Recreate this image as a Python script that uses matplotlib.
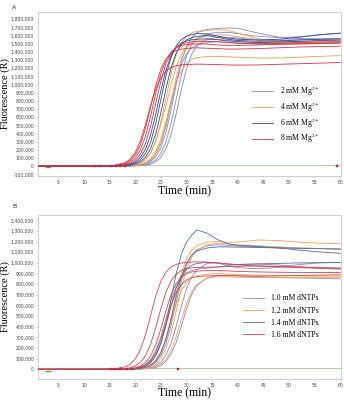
import numpy as np
import matplotlib
matplotlib.use("Agg")
import matplotlib.pyplot as plt
from matplotlib.ticker import FuncFormatter

plt.rcParams['mathtext.fontset'] = 'stix'

# time grid (min) shared by all curves
t = [1, 10, 16, 18, 19, 20, 21, 22, 23, 24, 25, 26, 27, 28, 29, 30, 31, 32,
     34, 36, 38, 40, 44, 48, 52, 56, 60]

# ---- panel A: Mg2+ (fluorescence in thousands) ----
mg2_curves = [
    [0, 0, 0, 1, 3, 7, 15, 27, 56, 115, 225, 414, 688, 1002, 1276, 1465, 1575, 1634, 1675, 1688, 1692, 1690, 1630, 1580, 1565, 1560, 1560],
    [0, 0, 0, 1, 2, 4, 8, 18, 38, 77, 156, 295, 525, 820, 1115, 1345, 1484, 1563, 1620, 1640, 1640, 1625, 1590, 1575, 1585, 1610, 1630],
    [0, 0, 0, 0, 1, 3, 6, 13, 25, 52, 107, 210, 387, 643, 937, 1193, 1370, 1473, 1555, 1578, 1580, 1570, 1550, 1545, 1550, 1555, 1560],
    [0, 0, 0, 2, 4, 8, 17, 35, 71, 144, 274, 486, 760, 1034, 1246, 1376, 1449, 1485, 1515, 1525, 1520, 1510, 1495, 1490, 1495, 1500, 1505],
]
mg4_curves = [
    [0, 0, 1, 3, 8, 18, 38, 78, 159, 301, 534, 835, 1136, 1369, 1511, 1592, 1632, 1652, 1665, 1672, 1665, 1630, 1560, 1530, 1525, 1530, 1535],
    [0, 0, 0, 2, 5, 8, 22, 45, 92, 180, 331, 549, 801, 1019, 1170, 1258, 1305, 1328, 1345, 1345, 1340, 1335, 1325, 1325, 1335, 1345, 1355],
    [0, 0, 0, 2, 4, 8, 18, 37, 75, 152, 288, 512, 800, 1088, 1312, 1448, 1525, 1563, 1595, 1610, 1605, 1585, 1545, 1520, 1515, 1520, 1525],
    [0, 0, 1, 5, 10, 20, 40, 80, 160, 300, 520, 740, 1000, 1220, 1370, 1460, 1505, 1530, 1550, 1555, 1545, 1530, 1510, 1505, 1505, 1510, 1515],
]
mg6_curves = [
    [0, 0, 3, 10, 20, 37, 77, 155, 293, 522, 815, 1108, 1337, 1475, 1553, 1592, 1612, 1625, 1620, 1595, 1570, 1555, 1545, 1555, 1580, 1610, 1630],
    [0, 0, 2, 6, 11, 26, 53, 109, 213, 392, 651, 949, 1208, 1387, 1491, 1547, 1574, 1590, 1600, 1580, 1555, 1540, 1530, 1535, 1545, 1555, 1560],
    [0, 0, 3, 9, 25, 51, 106, 207, 382, 635, 925, 1178, 1353, 1454, 1509, 1535, 1548, 1555, 1560, 1550, 1535, 1525, 1515, 1520, 1530, 1540, 1545],
]
mg8_curves = [
    [0, 0, 8, 33, 68, 138, 261, 464, 725, 986, 1189, 1312, 1382, 1417, 1434, 1443, 1447, 1450, 1445, 1440, 1435, 1435, 1440, 1450, 1460, 1465, 1470],
    [0, 0, 8, 24, 50, 102, 200, 368, 611, 890, 1133, 1300, 1398, 1450, 1476, 1490, 1496, 1500, 1495, 1485, 1480, 1480, 1485, 1495, 1500, 1505, 1510],
    [0, 0, 10, 40, 85, 166, 306, 509, 741, 944, 1084, 1165, 1209, 1230, 1240, 1245, 1248, 1250, 1248, 1245, 1240, 1238, 1240, 1248, 1255, 1262, 1270],
    [0, 0, 4, 14, 35, 72, 145, 275, 490, 765, 1040, 1255, 1385, 1458, 1495, 1513, 1522, 1527, 1530, 1525, 1515, 1505, 1500, 1505, 1515, 1520, 1525],
]

# ---- panel B: dNTPs ----
d10_curves = [
    [0, 0, 0, 1, 2, 4, 7, 15, 31, 64, 128, 241, 414, 629, 830, 983, 1072, 1123, 1160, 1170, 1165, 1158, 1150, 1145, 1140, 1135, 1130],
    [0, 0, 0, 0, 1, 2, 4, 8, 16, 33, 68, 133, 245, 407, 593, 755, 867, 932, 995, 1000, 975, 955, 945, 960, 985, 1000, 1005],
    [0, 0, 0, 0, 0, 1, 2, 4, 8, 17, 37, 76, 144, 254, 405, 568, 699, 785, 860, 880, 885, 880, 870, 862, 858, 855, 850],
    [0, 0, 0, 2, 5, 10, 22, 45, 90, 171, 304, 475, 646, 779, 860, 905, 928, 940, 950, 960, 975, 985, 990, 980, 965, 950, 940],
]
d12_curves = [
    [0, 0, 0, 1, 3, 5, 10, 19, 40, 82, 160, 294, 488, 712, 906, 1040, 1118, 1160, 1195, 1200, 1195, 1195, 1215, 1210, 1195, 1185, 1180],
    [0, 0, 0, 0, 2, 5, 8, 11, 25, 48, 100, 192, 340, 550, 767, 937, 1051, 1115, 1170, 1185, 1180, 1170, 1160, 1150, 1140, 1135, 1130],
    [0, 0, 0, 0, 1, 2, 3, 5, 11, 23, 48, 95, 179, 308, 467, 617, 731, 797, 855, 870, 870, 865, 862, 862, 863, 865, 865],
    [0, 0, 0, 2, 4, 6, 10, 21, 42, 86, 162, 288, 450, 612, 738, 815, 858, 880, 895, 900, 895, 890, 885, 880, 878, 876, 875],
]
d14_curves = [
    [0, 0, 0, 2, 4, 8, 15, 30, 62, 125, 238, 422, 660, 898, 1082, 1195, 1258, 1310, 1280, 1220, 1180, 1165, 1155, 1140, 1120, 1103, 1090],
    [0, 0, 0, 1, 3, 7, 16, 33, 69, 134, 247, 411, 599, 763, 876, 941, 977, 994, 1005, 1000, 990, 985, 990, 995, 1000, 1002, 1003],
    [0, 0, 0, 0, 1, 3, 8, 18, 38, 78, 153, 282, 468, 682, 868, 997, 1072, 1112, 1140, 1150, 1150, 1148, 1145, 1140, 1137, 1133, 1130],
]
d16_curves = [
    [0, 0, 4, 23, 47, 96, 182, 323, 505, 687, 828, 914, 962, 986, 999, 1005, 1008, 1010, 1008, 1000, 990, 982, 970, 962, 955, 950, 948],
    [0, 0, 0, 2, 6, 15, 31, 63, 124, 228, 379, 551, 702, 806, 867, 899, 915, 922, 928, 928, 925, 920, 915, 912, 910, 910, 910],
    [0, 0, 0, 2, 4, 10, 20, 41, 84, 158, 282, 440, 598, 722, 796, 839, 860, 870, 878, 880, 880, 878, 876, 878, 882, 885, 888],
    [0, 0, 1, 6, 15, 32, 65, 128, 235, 391, 569, 725, 832, 895, 928, 945, 953, 957, 960, 962, 965, 968, 972, 968, 960, 955, 952],
]

labels_a = ['2 mM Mg$^{2+}$', '4 mM Mg$^{2+}$', '6 mM Mg$^{2+}$', '8 mM Mg$^{2+}$']
labels_b = ['1.0 mM dNTPs', '1.2 mM dNTPs', '1.4 mM dNTPs', '1.6 mM dNTPs']
colors_a = ['#8487cc', '#f39a48', '#2f4895', '#d8323f']
colors_b = ['#8a86c6', '#f3a04e', '#4d6c9c', '#d8404b']

# threshold-call markers on the baseline
marks_a = [12.2, 13.2, 15.2, 16.3, 17.1, 18.1, 59.4]
marks_b = [15.2, 16.1, 17.1, 18.3, 19.3, 28.4]


def fmt(v, p):
    return f'{v:,.0f}'


def panel(ax, groups, colors, labels, marks, ylim, ymin_tick, leg_anchor, lspace):
    ax.plot([1, 60], [8000, 8000], color='#9ccf8c', lw=0.6, zorder=1)
    ax.plot([2.6, 3.4], [-15000, -15000], color='#4aa04a', lw=1.0, zorder=2)
    handles = []
    for curves, c, lab in zip(groups, colors, labels):
        for i, vals in enumerate(curves):
            ln, = ax.plot(t, np.array(vals) * 1000, color=c, lw=0.6, zorder=3)
            if i == 0:
                handles.append(ln)
    ax.plot(marks, [0] * len(marks), 's', color='#d8323f', ms=1.6,
            mec='#a02030', mew=0.3, zorder=5)
    ax.set_xlim(1, 60.2)
    ax.set_ylim(*ylim)
    ax.set_xticks(range(5, 61, 5))
    ax.set_yticks(np.arange(ymin_tick, ylim[1], 100000))
    ax.yaxis.set_major_formatter(FuncFormatter(fmt))
    ax.tick_params(labelsize=3.3, labelcolor='#444444', color='#bbbbbb',
                   length=1.2, width=0.4, pad=1.5)
    for s in ax.spines.values():
        s.set_color('#c8c8c8')
        s.set_linewidth(0.6)
    ax.legend(handles, labels, loc='upper left', bbox_to_anchor=leg_anchor,
              frameon=False, prop={'family': 'Liberation Serif', 'size': 5.5},
              handlelength=2.8, handletextpad=0.9, labelspacing=lspace,
              borderaxespad=0)


fig = plt.figure(figsize=(3.44, 4.0), dpi=100)
ax_a = fig.add_axes([0.110, 0.56, 0.882, 0.41])
ax_b = fig.add_axes([0.110, 0.0525, 0.882, 0.41])

panel(ax_a, [mg2_curves, mg4_curves, mg6_curves, mg8_curves], colors_a, labels_a,
      marks_a, (-121000, 1889000), -100000, (0.695, 0.575), 0.3)
panel(ax_b, [d10_curves, d12_curves, d14_curves, d16_curves], colors_b, labels_b,
      marks_b, (-91000, 1450000), 0, (0.665, 0.535), 0.55)

serif = 'Liberation Serif'
for yc, yx in [(0.765, 0.5225), (0.2575, 0.018)]:
    fig.text(0.016, yc, 'Fluorescence (R)', family=serif, fontsize=7.5,
             rotation=90, ha='center', va='center')
    fig.text(0.535, yx, 'Time (min)', family=serif, fontsize=8.5,
             ha='center', va='center')

fig.text(0.035, 0.978, 'A', fontsize=4.5, color='#333333')
fig.text(0.035, 0.48, 'B', fontsize=4.5, color='#333333')

fig.savefig('out.png', dpi=100)
